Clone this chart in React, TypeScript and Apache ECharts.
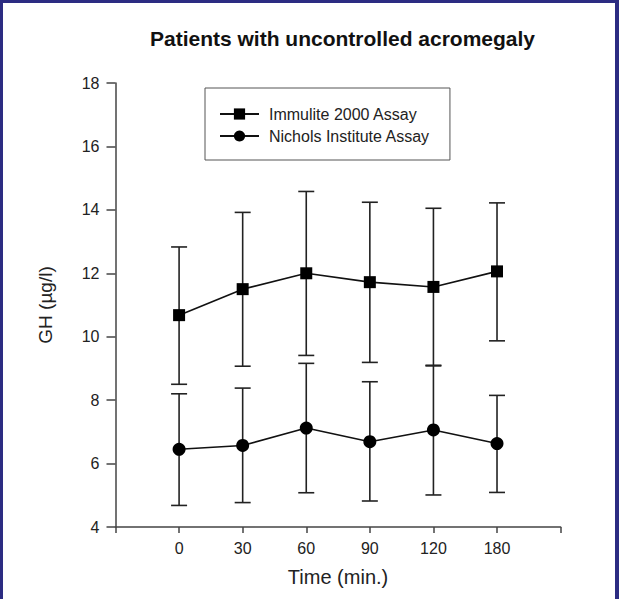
import React, { useEffect, useRef } from "react";
import * as echarts from "echarts";

const categories = ["0", "30", "60", "90", "120", "180"];
const yTicks = [4, 6, 8, 10, 12, 14, 16, 18];

const immuliteMean = [10.68, 11.5, 12.0, 11.72, 11.57, 12.06];
const immuliteUpper = [12.83, 13.92, 14.58, 14.24, 14.05, 14.22];
const immuliteLower = [8.5, 9.07, 9.41, 9.19, 9.08, 9.87];

const nicholsMean = [6.45, 6.57, 7.12, 6.69, 7.06, 6.63];
const nicholsUpper = [8.2, 8.38, 9.16, 8.58, 9.1, 8.15];
const nicholsLower = [4.68, 4.77, 5.08, 4.82, 5.01, 5.09];

const FONT = '"Liberation Sans", Arial, Helvetica, sans-serif';

export default function App() {
  const ref = useRef<HTMLDivElement>(null);

  useEffect(() => {
    const chart = echarts.init(ref.current!, null, { renderer: "svg" });

    const errData = (lo: number[], hi: number[]) => lo.map((l, i) => [i, l, hi[i]]);
    const errRender = (params: any, api: any) => {
      const x = api.value(0);
      const lo = api.value(1);
      const hi = api.value(2);
      const top = api.coord([x, hi]);
      const bot = api.coord([x, lo]);
      const hw = 8;
      const st = { stroke: "#222", lineWidth: 1.6 };
      return {
        type: "group",
        children: [
          { type: "line", shape: { x1: top[0], y1: top[1], x2: bot[0], y2: bot[1] }, style: st },
          { type: "line", shape: { x1: top[0] - hw, y1: top[1], x2: top[0] + hw, y2: top[1] }, style: st },
          { type: "line", shape: { x1: bot[0] - hw, y1: bot[1], x2: bot[0] + hw, y2: bot[1] }, style: st },
        ],
      };
    };

    const toPts = (arr: number[]) => arr.map((v, i) => [i, v]);

    chart.setOption({
      animation: false,
      backgroundColor: "#2c2c82",
      textStyle: { fontFamily: FONT },
      graphic: [
        {
          type: "rect",
          z: -10,
          shape: { x: 3, y: 3, width: 612, height: 596 },
          style: { fill: "#ffffff" },
          silent: true,
        },
      ],
      title: {
        text: "Patients with uncontrolled acromegaly",
        left: 337.5,
        top: 23,
        padding: 5,
        textAlign: "center",
        textStyle: { fontFamily: FONT, fontWeight: "bold", fontSize: 21, color: "#111" },
      },
      legend: {
        data: ["Immulite 2000 Assay", "Nichols Institute Assay"],
        orient: "vertical",
        left: 205,
        top: 88,
        padding: [18, 20, 16, 14],
        itemGap: 6,
        itemWidth: 39,
        itemHeight: 14,
        borderColor: "#555",
        borderWidth: 1,
        textStyle: { fontFamily: FONT, fontSize: 16, color: "#222", padding: [0, 0, 0, 5] },
      },
      grid: {
        left: 115.5,
        right: 58.4,
        top: 83,
        bottom: 72,
        containLabel: false,
        outerBoundsMode: "none",
      },
      xAxis: {
        type: "value",
        min: -1,
        max: 6,
        interval: 1,
        splitLine: { show: false },
        axisLine: { onZero: false, lineStyle: { color: "#444", width: 1.5 } },
        axisTick: { show: true, length: 6, lineStyle: { color: "#444", width: 1.5 } },
        axisLabel: {
          margin: 13,
          fontSize: 16,
          color: "#222",
          fontFamily: FONT,
          formatter: (v: number) => (v >= 0 && v < categories.length ? categories[v] : ""),
        },
        name: "Time (min.)",
        nameLocation: "middle",
        nameGap: 40,
        nameTextStyle: { fontSize: 20, color: "#222", fontFamily: FONT },
      },
      yAxis: {
        type: "value",
        min: yTicks[0],
        max: yTicks[yTicks.length - 1],
        interval: 2,
        splitLine: { show: false },
        axisLine: { show: true, onZero: false, lineStyle: { color: "#444", width: 1.5 } },
        axisTick: { show: true, length: 9, lineStyle: { color: "#444", width: 1.5 } },
        axisLabel: { margin: 16, fontSize: 16, color: "#222", fontFamily: FONT },
        name: "GH (µg/l)",
        nameLocation: "middle",
        nameGap: 61,
        nameTextStyle: { fontSize: 19, color: "#222", fontFamily: FONT },
      },
      series: [
        {
          type: "custom",
          name: "immuliteErr",
          renderItem: errRender,
          data: errData(immuliteLower, immuliteUpper),
          encode: { x: 0, y: [1, 2] },
          z: 1,
        },
        {
          type: "custom",
          name: "nicholsErr",
          renderItem: errRender,
          data: errData(nicholsLower, nicholsUpper),
          encode: { x: 0, y: [1, 2] },
          z: 1,
        },
        {
          type: "line",
          name: "Immulite 2000 Assay",
          data: toPts(immuliteMean),
          symbol: "rect",
          symbolSize: 12,
          lineStyle: { color: "#111", width: 1.6 },
          itemStyle: { color: "#000" },
          z: 3,
        },
        {
          type: "line",
          name: "Nichols Institute Assay",
          data: toPts(nicholsMean),
          symbol: "circle",
          symbolSize: 13,
          lineStyle: { color: "#111", width: 1.6 },
          itemStyle: { color: "#000" },
          z: 3,
        },
      ],
    });

    return () => chart.dispose();
  }, []);

  return (
    <div
      ref={ref}
      style={{ position: "fixed", left: 0, top: 0, width: 619, height: 599 }}
    />
  );
}
